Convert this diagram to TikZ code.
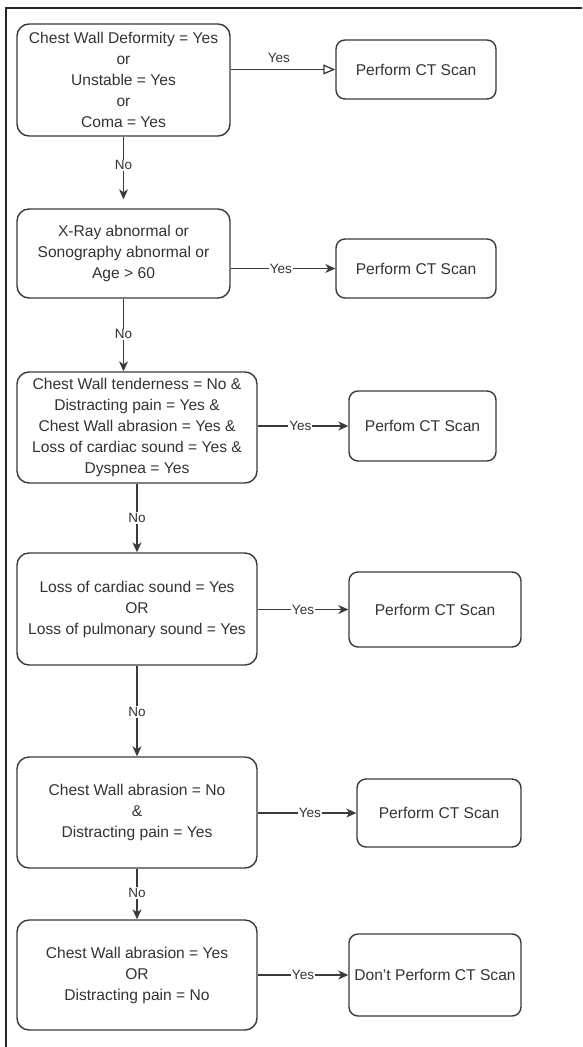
\documentclass[tikz,border=0pt]{standalone}
\usepackage{fontspec}
\setmainfont{Liberation Sans}
\usetikzlibrary{arrows.meta}
\definecolor{ink}{HTML}{333333}
\definecolor{edge}{HTML}{3A3A3A}
\begin{document}
\begin{tikzpicture}[x=1pt,y=-1pt,
  cond/.style={draw=edge, line width=1.4pt, rounded corners=12pt, align=center,
    inner sep=0pt, text=ink, font=\fontsize{15.6}{21}\selectfont},
  result/.style={draw=edge, line width=1.4pt, rounded corners=9pt, align=center,
    inner sep=0pt, text=ink, font=\fontsize{15.6}{21}\selectfont},
  conn/.style={draw=edge, line width=1.3pt, -{Stealth[length=10pt,width=9pt,inset=3pt]}},
  openconn/.style={draw=edge, line width=1.3pt, -{Triangle[open,length=12pt,width=10pt]}},
  lbl/.style={fill=white, inner sep=1pt, text=ink, font=\fontsize{13.5}{16}\selectfont},
]
\useasboundingbox (0,0) rectangle (582,1047);
\draw[line width=2pt, black!85] (6,1047) -- (6,8) -- (582,8);

\node[cond, minimum width=213pt, minimum height=112pt] (b1) at (123.5,80)
  {Chest Wall Deformity = Yes\\or\\Unstable = Yes\\or\\Coma = Yes};
\node[result, minimum width=160pt, minimum height=59pt] (r1) at (416,69.5) {Perform CT Scan};

\node[cond, minimum width=213pt, minimum height=89pt] (b2) at (123.5,253.5)
  {X-Ray abnormal or\\Sonography abnormal or\\Age {>} 60};
\node[result, minimum width=160pt, minimum height=59pt] (r2) at (416,268.5) {Perform CT Scan};

\node[cond, minimum width=240pt, minimum height=111pt] (b3) at (137,427.5)
  {Chest Wall tenderness = No \&\\Distracting pain = Yes \&\\Chest Wall abrasion = Yes \&\\Loss of cardiac sound = Yes \&\\Dyspnea = Yes};
\node[result, minimum width=147pt, minimum height=70pt] (r3) at (422.5,426) {Perfom CT Scan};

\node[cond, minimum width=240pt, minimum height=112pt] (b4) at (137,609)
  {Loss of cardiac sound = Yes\\OR\\Loss of pulmonary sound = Yes};
\node[result, minimum width=172pt, minimum height=75pt] (r4) at (435,609.5) {Perform CT Scan};

\node[cond, minimum width=240pt, minimum height=111pt] (b5) at (137,812.5)
  {Chest Wall abrasion = No\\\&\\Distracting pain = Yes};
\node[result, minimum width=164pt, minimum height=68pt] (r5) at (439,813) {Perform CT Scan};

\node[cond, minimum width=240pt, minimum height=110pt] (b6) at (137,975)
  {Chest Wall abrasion = Yes\\OR\\Distracting pain = No};
\node[result, minimum width=172pt, minimum height=82pt] (r6) at (435,975) {Don't Perform CT Scan};

% Yes connectors
\draw[openconn] (r1.west -| b1.east) -- node[pos=0.46, above=6pt, text=ink, inner sep=0pt, font=\fontsize{13.5}{16}\selectfont] {Yes} (r1.west);
\draw[conn] (r2.west -| b2.east) -- node[lbl, pos=0.48] {Yes} (r2.west);
\draw[conn] (r3.west -| b3.east) -- node[lbl, pos=0.47] {Yes} (r3.west);
\draw[conn] (r4.west -| b4.east) -- node[lbl, pos=0.5] {Yes} (r4.west);
\draw[conn] (r5.west -| b5.east) -- node[lbl, pos=0.53] {Yes} (r5.west);
\draw[conn] (r6.west -| b6.east) -- node[lbl, pos=0.5] {Yes} (r6.west);

% No connectors
\draw[conn, shorten >=9pt] (b1.south) -- node[lbl, pos=0.4] {No} (b2.north);
\draw[conn] (b2.south) -- node[lbl, pos=0.49] {No} (b2.south |- b3.north);
\draw[conn] (b3.south) -- node[lbl, pos=0.5] {No} (b4.north);
\draw[conn] (b4.south) -- node[lbl, pos=0.51] {No} (b5.north);
\draw[conn] (b5.south) -- node[lbl, pos=0.48] {No} (b6.north);
\end{tikzpicture}
\end{document}
